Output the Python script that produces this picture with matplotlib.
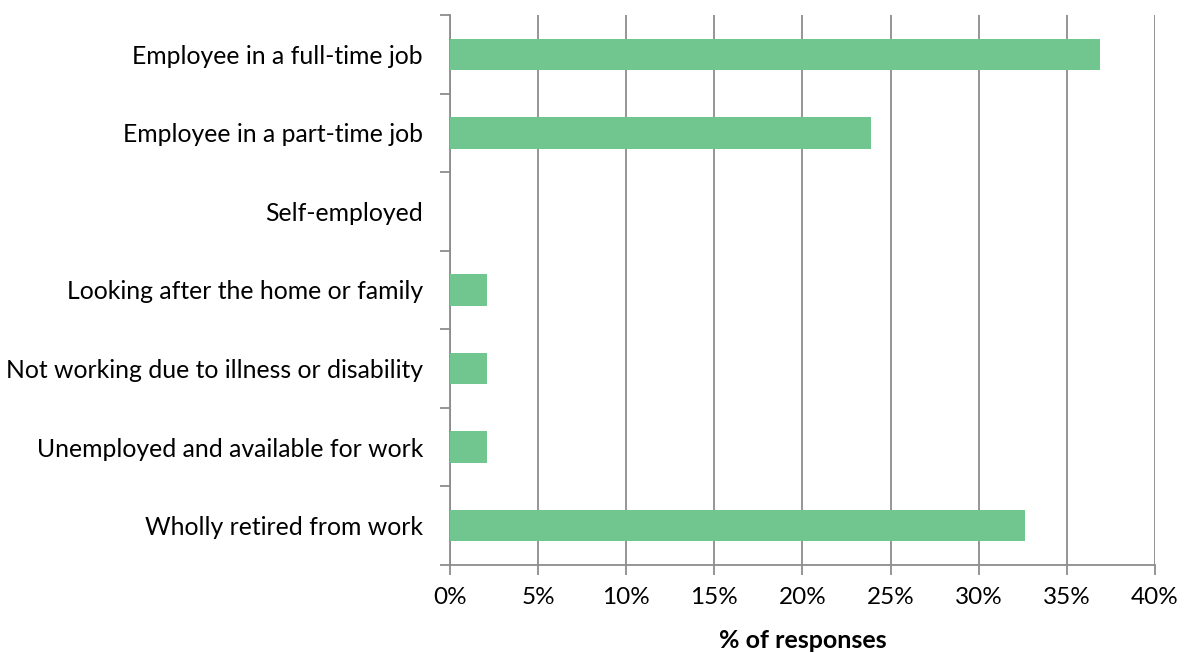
import matplotlib.pyplot as plt
from matplotlib.ticker import FuncFormatter, FixedLocator
import numpy as np

plt.rcParams['font.family'] = ['Lato', 'DejaVu Sans']

categories = ["Employee in a full-time job", "Employee in a part-time job", "Self-employed",
              "Looking after the home or family", "Not working due to illness or disability",
              "Unemployed and available for work", "Wholly retired from work"]
values = [36.9, 23.9, 0.0, 2.1, 2.1, 2.1, 32.6]

fig = plt.figure(figsize=(11.88, 6.53), dpi=100)
ax = fig.add_axes([0.3788, 0.1348, 0.5934, 0.8422])

y = np.arange(len(categories))
ax.barh(y, values, height=0.4, color="#71c58f", zorder=3)
ax.set_ylim(len(categories) - 0.5, -0.5)
ax.set_xlim(0, 40)
ax.set_xticks(np.arange(0, 41, 5))
ax.xaxis.set_major_formatter(FuncFormatter(lambda v, p: f"{v:.0f}%"))
ax.grid(axis="x", color="#8c8c8c", linewidth=1.3, zorder=0)

ax.set_yticks(y)
ax.set_yticklabels(categories)
ax.yaxis.set_minor_locator(FixedLocator(np.arange(-0.5, len(categories), 1)))
ax.tick_params(axis="y", which="major", length=0, pad=19.5, labelsize=17.8)
ax.tick_params(axis="y", which="minor", length=7, width=1.3, color="#8c8c8c")
ax.tick_params(axis="x", length=7, width=1.3, color="#8c8c8c", pad=9, labelsize=17.5)

for s in ["top", "right"]:
    ax.spines[s].set_visible(False)
for s in ["left", "bottom"]:
    ax.spines[s].set_color("#8c8c8c")
    ax.spines[s].set_linewidth(1.3)

ax.set_xlabel("% of responses", fontsize=18, fontweight="bold", labelpad=15)

fig.savefig("out.png", dpi=100)
